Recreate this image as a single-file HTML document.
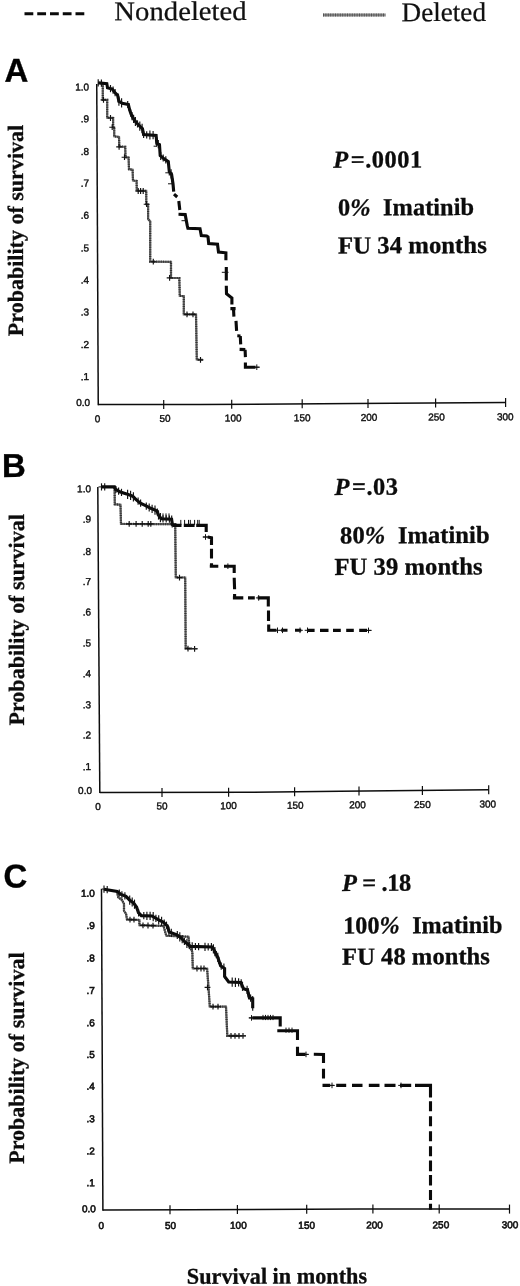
<!DOCTYPE html>
<html lang="en"><head><meta charset="utf-8"><title>Probability of survival: Nondeleted vs Deleted</title>
<style>
html,body{margin:0;padding:0;background:#fff;overflow:hidden;width:520px;height:1286px}
svg{display:block;opacity:.999;will-change:transform;text-rendering:geometricPrecision}
.ax{font-family:"Liberation Sans", Arial, sans-serif;font-size:10px;fill:#111;stroke:#111;stroke-width:var(--axw,.42px)}
.ann{font-family:"Liberation Serif", "Times New Roman", serif;font-weight:bold;font-size:24.5px;fill:#0c0c0c;stroke:#0c0c0c;stroke-width:.3px}
.leg{font-family:"Liberation Serif", "Times New Roman", serif;font-size:27px;fill:#111;stroke:#111;stroke-width:.25px}
.let{font-family:"Liberation Sans", Arial, sans-serif;font-weight:bold;font-size:33px;fill:#000;stroke:#000;stroke-width:.35px}
</style></head><body>
<svg width="520" height="1286" viewBox="0 0 520 1286">
<rect width="520" height="1286" fill="#fff"/>

<path d="M24.5,13.7H84.3" stroke="#0a0a0a" stroke-width="3.1" stroke-dasharray="8.8,3.95" fill="none"/>
<text class="leg" x="114.3" y="20.3" transform="rotate(-0.15 114.3 20.3)" textLength="132.4" lengthAdjust="spacingAndGlyphs">Nondeleted</text>
<path d="M323,14.9H385.6" stroke="#8c8c8c" stroke-width="3" fill="none"/>
<path d="M323,14.9H385.6" stroke="#555" stroke-width="3" stroke-dasharray="1,1.4" fill="none"/>
<text class="leg" x="401.5" y="21.2" transform="rotate(-0.15 401.5 21.2)" textLength="84.5" lengthAdjust="spacingAndGlyphs">Deleted</text>
<g id="panelA">
<text class="let" x="4.5" y="81.7" transform="rotate(-0.2 4.5 81.7)">A</text>
<text class="ann" style="font-size:22px" transform="translate(23.4,230.5) rotate(-90)" text-anchor="middle" textLength="211.4" lengthAdjust="spacingAndGlyphs">Probability of survival</text>
<path d="M96.75,84L98.25,405.2" stroke="#0d0d0d" stroke-width="1.5" fill="none"/>
<path d="M98.2,404.5 L200.0,404.5 L355.0,403.5 L505.6,402.4" stroke="#0d0d0d" stroke-width="1.5" fill="none" stroke-linejoin="round"/>
<path d="M163.7,400.0V409.0" stroke="#0d0d0d" stroke-width="1.2" fill="none"/>
<text class="ax" x="165" y="421.87" transform="rotate(-0.27 165 421.87)" text-anchor="middle">50</text>
<path d="M231.7,399.8V408.8" stroke="#0d0d0d" stroke-width="1.2" fill="none"/>
<text class="ax" x="233.2" y="421.54" transform="rotate(-0.27 233.2 421.54)" text-anchor="middle">100</text>
<path d="M302.2,399.3V408.3" stroke="#0d0d0d" stroke-width="1.2" fill="none"/>
<text class="ax" x="302.2" y="421.20" transform="rotate(-0.27 302.2 421.20)" text-anchor="middle">150</text>
<path d="M368.0,398.9V407.9" stroke="#0d0d0d" stroke-width="1.2" fill="none"/>
<text class="ax" x="369" y="420.87" transform="rotate(-0.27 369 420.87)" text-anchor="middle">200</text>
<path d="M435.6,398.4V407.4" stroke="#0d0d0d" stroke-width="1.2" fill="none"/>
<text class="ax" x="436.6" y="420.54" transform="rotate(-0.27 436.6 420.54)" text-anchor="middle">250</text>
<path d="M505.6,397.9V406.9" stroke="#0d0d0d" stroke-width="1.2" fill="none"/>
<text class="ax" x="505.3" y="420.20" transform="rotate(-0.27 505.3 420.20)" text-anchor="middle">300</text>
<text class="ax" x="97.5" y="422.20" transform="rotate(-0.27 97.5 422.20)" text-anchor="middle">0</text>
<text class="ax" x="89.20" y="90.40" transform="rotate(-0.27 89.20 90.40)" text-anchor="end">1.0</text>
<text class="ax" x="89.20" y="122.20" transform="rotate(-0.27 89.20 122.20)" text-anchor="end">.9</text>
<text class="ax" x="89.20" y="155.00" transform="rotate(-0.27 89.20 155.00)" text-anchor="end">.8</text>
<text class="ax" x="89.20" y="186.60" transform="rotate(-0.27 89.20 186.60)" text-anchor="end">.7</text>
<text class="ax" x="89.20" y="218.80" transform="rotate(-0.27 89.20 218.80)" text-anchor="end">.6</text>
<text class="ax" x="89.20" y="251.50" transform="rotate(-0.27 89.20 251.50)" text-anchor="end">.5</text>
<text class="ax" x="89.20" y="283.40" transform="rotate(-0.27 89.20 283.40)" text-anchor="end">.4</text>
<text class="ax" x="89.20" y="315.40" transform="rotate(-0.27 89.20 315.40)" text-anchor="end">.3</text>
<text class="ax" x="89.20" y="348.00" transform="rotate(-0.27 89.20 348.00)" text-anchor="end">.2</text>
<text class="ax" x="89.20" y="380.10" transform="rotate(-0.27 89.20 380.10)" text-anchor="end">.1</text>
<text class="ax" x="90.20" y="405.90" transform="rotate(-0.27 90.20 405.90)" text-anchor="end">0.0</text>
<path d="M98.2,83.2 L102.8,83.5 L102.8,99.9 L107.2,99.9 L107.2,117.7 L113.1,118.0 L113.1,127.0 L114.2,127.5 L114.2,136.3 L119.0,137.0 L119.3,146.5 L125.2,146.8 L125.5,157.2 L128.6,157.6 L129.0,169.2 L132.6,169.7 L133.0,180.6 L136.6,180.9 L136.8,190.7 L146.2,190.8 L146.3,204.2 L148.1,204.6 L148.1,219.2 L150.2,221.2 L150.2,261.6 L171.0,261.8 L171.0,278.0 L179.3,278.0 L179.8,296.0 L183.8,296.0 L183.8,314.3 L196.0,314.3 L196.8,359.5 L202.7,359.8" stroke="#6a6a6a" stroke-width="2.2" fill="none" stroke-linejoin="miter"/>
<path d="M98.2,83.2 L102.8,83.5 L102.8,99.9 L107.2,99.9 L107.2,117.7 L113.1,118.0 L113.1,127.0 L114.2,127.5 L114.2,136.3 L119.0,137.0 L119.3,146.5 L125.2,146.8 L125.5,157.2 L128.6,157.6 L129.0,169.2 L132.6,169.7 L133.0,180.6 L136.6,180.9 L136.8,190.7 L146.2,190.8 L146.3,204.2 L148.1,204.6 L148.1,219.2 L150.2,221.2 L150.2,261.6 L171.0,261.8 L171.0,278.0 L179.3,278.0 L179.8,296.0 L183.8,296.0 L183.8,314.3 L196.0,314.3 L196.8,359.5 L202.7,359.8" stroke="#333" stroke-width="2.2" fill="none" stroke-dasharray="1,1.3" stroke-linejoin="miter"/>
<path d="M100.6,99.9H106.4M103.5,97.0V102.8" stroke="#111" stroke-width="1.15" fill="none"/>
<path d="M107.6,118.0H113.4M110.5,115.1V120.9" stroke="#111" stroke-width="1.15" fill="none"/>
<path d="M109.3,127.2H115.1M112.2,124.3V130.1" stroke="#111" stroke-width="1.15" fill="none"/>
<path d="M116.2,146.8H122.0M119.1,143.9V149.7" stroke="#111" stroke-width="1.15" fill="none"/>
<path d="M121.6,157.2H127.4M124.5,154.3V160.1" stroke="#111" stroke-width="1.15" fill="none"/>
<path d="M135.3,191.0H141.1M138.2,188.1V193.9" stroke="#111" stroke-width="1.15" fill="none"/>
<path d="M137.7,191.0H143.5M140.6,188.1V193.9" stroke="#111" stroke-width="1.15" fill="none"/>
<path d="M140.3,191.0H146.1M143.2,188.1V193.9" stroke="#111" stroke-width="1.15" fill="none"/>
<path d="M143.7,204.2H149.5M146.6,201.3V207.1" stroke="#111" stroke-width="1.15" fill="none"/>
<path d="M150.4,261.7H156.2M153.3,258.8V264.6" stroke="#111" stroke-width="1.15" fill="none"/>
<path d="M166.7,277.9H172.5M169.6,275.0V280.8" stroke="#111" stroke-width="1.15" fill="none"/>
<path d="M184.1,314.3H189.9M187.0,311.4V317.2" stroke="#111" stroke-width="1.15" fill="none"/>
<path d="M190.1,314.3H195.9M193.0,311.4V317.2" stroke="#111" stroke-width="1.15" fill="none"/>
<path d="M197.6,359.8H203.4M200.5,356.9V362.7" stroke="#111" stroke-width="1.15" fill="none"/>
<path d="M98.2,82.8 L106.8,83.6 L107.5,87.8 L112.2,89.1 L114.9,92.5 L117.6,95.2 L118.9,101.2 L122.3,103.3 L128.4,104.6 L129.7,110.0 L131.0,114.0 L133.0,118.0 L135.8,122.0 L139.0,125.5 L142.5,128.8 L143.6,134.6 L156.1,135.4 L156.8,143.5 L159.5,144.8 L160.2,155.6 L164.2,158.9 L168.3,161.6 L169.3,171.7 L171.6,174.4 L173.0,183.8 L173.7,191.7" stroke="#0a0a0a" stroke-width="3.1" fill="none" stroke-linejoin="miter"/>
<path d="M174.0,194.2 L177.2,197.0 M178.8,201.0 L179.8,210.0 M178.5,214.3 L185.2,214.6 L187.2,225.4 L187.9,228.2 L200.0,228.7 L201.3,235.5 L206.7,236.0 L208.0,236.8 L208.7,243.5 L217.5,244.2 L218.5,252.1 L225.9,252.8 L225.9,260.2 M226.3,266.9 L226.3,280.4 M226.3,285.8 L226.5,293.8 L231.9,297.9 L231.9,304.6 M230.4,308.6 L235.6,308.6 M233.5,308.6 L233.9,316.7 M236.0,320.8 L236.6,330.8 M237.3,335.8 L240.5,336.0 M240.3,336.2 L240.7,344.3 M239.6,349.4 L245.3,349.6 M245.1,349.7 L245.4,357.1 M245.4,362.6 L245.4,367.2 L255.5,367.2" stroke="#0a0a0a" stroke-width="3.1" fill="none" stroke-linejoin="miter"/>
<path d="M255.0,367.2 L259.5,367.2 M221.8,272.3 L228.5,272.3 M153.6,146.2 L157.0,146.2 M165.3,172.8 L169.0,172.8 M168.0,183.8 L172.0,183.8 M181.5,220.7 L185.5,220.7" stroke="#111" stroke-width="1" fill="none"/>
<path d="M98.2,79.2V86.4" stroke="#111" stroke-width="1.15" fill="none"/>
<path d="M101.4,79.5V86.7" stroke="#111" stroke-width="1.15" fill="none"/>
<path d="M110.5,85.0V92.2" stroke="#111" stroke-width="1.15" fill="none"/>
<path d="M113.1,86.6V93.8" stroke="#111" stroke-width="1.15" fill="none"/>
<path d="M115.1,89.1V96.3" stroke="#111" stroke-width="1.15" fill="none"/>
<path d="M118.2,93.4V102.6" stroke="#111" stroke-width="1.15" fill="none"/>
<path d="M118.9,96.5V105.7" stroke="#111" stroke-width="1.15" fill="none"/>
<path d="M121.6,98.2V107.4" stroke="#111" stroke-width="1.15" fill="none"/>
<path d="M127.7,100.9V108.1" stroke="#111" stroke-width="1.15" fill="none"/>
<path d="M129.0,103.4V110.6" stroke="#111" stroke-width="1.15" fill="none"/>
<path d="M130.7,109.6V116.8" stroke="#111" stroke-width="1.15" fill="none"/>
<path d="M132.0,112.0V120.2" stroke="#111" stroke-width="1.15" fill="none"/>
<path d="M133.6,114.8V123.0" stroke="#111" stroke-width="1.15" fill="none"/>
<path d="M135.4,116.9V126.1" stroke="#111" stroke-width="1.15" fill="none"/>
<path d="M137.5,120.3V127.5" stroke="#111" stroke-width="1.15" fill="none"/>
<path d="M139.8,121.6V130.8" stroke="#111" stroke-width="1.15" fill="none"/>
<path d="M142.1,123.8V133.0" stroke="#111" stroke-width="1.15" fill="none"/>
<path d="M143.0,127.8V135.0" stroke="#111" stroke-width="1.15" fill="none"/>
<path d="M143.6,130.9V138.1" stroke="#111" stroke-width="1.15" fill="none"/>
<path d="M146.7,131.2V138.4" stroke="#111" stroke-width="1.15" fill="none"/>
<path d="M149.9,130.4V139.6" stroke="#111" stroke-width="1.15" fill="none"/>
<path d="M153.1,131.1V139.3" stroke="#111" stroke-width="1.15" fill="none"/>
<path d="M156.4,134.7V142.9" stroke="#111" stroke-width="1.15" fill="none"/>
<path d="M156.7,137.4V146.6" stroke="#111" stroke-width="1.15" fill="none"/>
<path d="M158.3,140.1V148.3" stroke="#111" stroke-width="1.15" fill="none"/>
<path d="M159.6,143.1V150.3" stroke="#111" stroke-width="1.15" fill="none"/>
<path d="M159.8,145.3V154.5" stroke="#111" stroke-width="1.15" fill="none"/>
<path d="M160.0,149.5V156.7" stroke="#111" stroke-width="1.15" fill="none"/>
<path d="M160.7,151.9V160.1" stroke="#111" stroke-width="1.15" fill="none"/>
<path d="M163.2,154.4V161.6" stroke="#111" stroke-width="1.15" fill="none"/>
<path d="M165.8,156.3V163.5" stroke="#111" stroke-width="1.15" fill="none"/>
<path d="M168.6,160.8V169.0" stroke="#111" stroke-width="1.15" fill="none"/>
<path d="M168.9,164.5V171.7" stroke="#111" stroke-width="1.15" fill="none"/>
<path d="M169.3,167.2V175.4" stroke="#111" stroke-width="1.15" fill="none"/>
<path d="M171.1,169.2V178.4" stroke="#111" stroke-width="1.15" fill="none"/>
<path d="M172.0,172.2V181.4" stroke="#111" stroke-width="1.15" fill="none"/>
<path d="M172.4,176.4V183.6" stroke="#111" stroke-width="1.15" fill="none"/>
<path d="M172.9,178.6V187.8" stroke="#111" stroke-width="1.15" fill="none"/>
<path d="M173.2,182.7V189.9" stroke="#111" stroke-width="1.15" fill="none"/>
<path d="M254.0,367.2H259.6M256.8,364.4V370.0" stroke="#111" stroke-width="1" fill="none"/>
<text class="ann" x="333.2" y="167.7" transform="rotate(-0.2 333.2 167.7)" textLength="89" lengthAdjust="spacing"><tspan font-style="italic">P</tspan><tspan dx="2.2">=.0001</tspan></text>
<text class="ann" x="338" y="215.5" transform="rotate(-0.2 338 215.5)" textLength="136" lengthAdjust="spacingAndGlyphs">0<tspan font-style="italic">%</tspan><tspan dx="6.5"> Imatinib</tspan></text>
<text class="ann" x="338" y="253.5" transform="rotate(-0.2 338 253.5)" textLength="148.8" lengthAdjust="spacingAndGlyphs">FU 34 months</text>
</g>
<g id="panelB">
<text class="let" x="2" y="477.1" transform="rotate(-0.2 2 477.1)">B</text>
<text class="ann" style="font-size:22px" transform="translate(23.9,619.8) rotate(-90)" text-anchor="middle" textLength="211.4" lengthAdjust="spacingAndGlyphs">Probability of survival</text>
<path d="M97.8,487L99.8,793.0" stroke="#0d0d0d" stroke-width="1.5" fill="none"/>
<path d="M99.8,792.6 L250.0,792.3 L340.0,791.3 L488.7,789.8" stroke="#0d0d0d" stroke-width="1.5" fill="none" stroke-linejoin="round"/>
<path d="M162.0,788.0V797.0" stroke="#0d0d0d" stroke-width="1.2" fill="none"/>
<text class="ax" x="162" y="809.52" transform="rotate(-0.27 162 809.52)" text-anchor="middle">50</text>
<path d="M228.6,787.8V796.8" stroke="#0d0d0d" stroke-width="1.2" fill="none"/>
<text class="ax" x="228.6" y="809.11" transform="rotate(-0.27 228.6 809.11)" text-anchor="middle">100</text>
<path d="M294.6,787.3V796.3" stroke="#0d0d0d" stroke-width="1.2" fill="none"/>
<text class="ax" x="295.3" y="808.69" transform="rotate(-0.27 295.3 808.69)" text-anchor="middle">150</text>
<path d="M359.0,786.6V795.6" stroke="#0d0d0d" stroke-width="1.2" fill="none"/>
<text class="ax" x="357.5" y="808.31" transform="rotate(-0.27 357.5 808.31)" text-anchor="middle">200</text>
<path d="M422.4,786.0V795.0" stroke="#0d0d0d" stroke-width="1.2" fill="none"/>
<text class="ax" x="422.4" y="807.91" transform="rotate(-0.27 422.4 807.91)" text-anchor="middle">250</text>
<path d="M488.7,785.3V794.3" stroke="#0d0d0d" stroke-width="1.2" fill="none"/>
<text class="ax" x="487.8" y="807.51" transform="rotate(-0.27 487.8 807.51)" text-anchor="middle">300</text>
<text class="ax" x="98" y="809.90" transform="rotate(-0.27 98 809.90)" text-anchor="middle">0</text>
<text class="ax" x="91.00" y="492.20" transform="rotate(-0.27 91.00 492.20)" text-anchor="end">1.0</text>
<text class="ax" x="91.00" y="522.60" transform="rotate(-0.27 91.00 522.60)" text-anchor="end">.9</text>
<text class="ax" x="91.00" y="554.90" transform="rotate(-0.27 91.00 554.90)" text-anchor="end">.8</text>
<text class="ax" x="91.00" y="585.00" transform="rotate(-0.27 91.00 585.00)" text-anchor="end">.7</text>
<text class="ax" x="91.00" y="615.40" transform="rotate(-0.27 91.00 615.40)" text-anchor="end">.6</text>
<text class="ax" x="91.00" y="646.50" transform="rotate(-0.27 91.00 646.50)" text-anchor="end">.5</text>
<text class="ax" x="91.00" y="677.10" transform="rotate(-0.27 91.00 677.10)" text-anchor="end">.4</text>
<text class="ax" x="91.00" y="708.20" transform="rotate(-0.27 91.00 708.20)" text-anchor="end">.3</text>
<text class="ax" x="91.00" y="738.50" transform="rotate(-0.27 91.00 738.50)" text-anchor="end">.2</text>
<text class="ax" x="91.00" y="770.10" transform="rotate(-0.27 91.00 770.10)" text-anchor="end">.1</text>
<text class="ax" x="92.00" y="794.00" transform="rotate(-0.27 92.00 794.00)" text-anchor="end">0.0</text>
<path d="M114.6,488.0 L114.8,504.2 L120.5,504.8 L121.0,523.9 L175.2,524.2 L175.8,577.3 L185.2,577.5 L185.7,648.4 L192.0,648.6" stroke="#6a6a6a" stroke-width="2.2" fill="none" stroke-linejoin="miter"/>
<path d="M114.6,488.0 L114.8,504.2 L120.5,504.8 L121.0,523.9 L175.2,524.2 L175.8,577.3 L185.2,577.5 L185.7,648.4 L192.0,648.6" stroke="#333" stroke-width="2.2" fill="none" stroke-dasharray="1,1.3" stroke-linejoin="miter"/>
<path d="M126.3,523.9H132.1M129.2,521.0V526.8" stroke="#111" stroke-width="1.15" fill="none"/>
<path d="M133.2,523.9H139.0M136.1,521.0V526.8" stroke="#111" stroke-width="1.15" fill="none"/>
<path d="M139.3,523.9H145.1M142.2,521.0V526.8" stroke="#111" stroke-width="1.15" fill="none"/>
<path d="M145.3,523.9H151.1M148.2,521.0V526.8" stroke="#111" stroke-width="1.15" fill="none"/>
<path d="M147.9,523.9H153.7M150.8,521.0V526.8" stroke="#111" stroke-width="1.15" fill="none"/>
<path d="M176.6,577.6H182.4M179.5,574.7V580.5" stroke="#111" stroke-width="1.15" fill="none"/>
<path d="M185.1,648.6H190.9M188.0,645.7V651.5" stroke="#111" stroke-width="1.15" fill="none"/>
<path d="M191.7,648.8H197.5M194.6,645.9V651.7" stroke="#111" stroke-width="1.15" fill="none"/>
<path d="M101.5,486.9 L114.5,486.9 L115.4,489.2 L119.7,491.8 L126.6,493.9 L132.7,496.2 L136.1,499.6 L140.4,503.1 L145.6,505.7 L150.8,508.3 L156.9,510.9 L158.6,515.2 L161.2,518.7 L171.6,519.2 L172.4,524.6 L173.5,525.4" stroke="#0a0a0a" stroke-width="3.1" fill="none" stroke-linejoin="miter"/>
<path d="M173.0,525.4 L181.5,525.4 M183.8,525.4 L194.6,525.4 M196.2,525.4 L206.2,525.4 L206.2,532.0 M207.7,537.0 L211.5,537.7 L211.5,545.0 M211.5,548.8 L211.5,558.5 M211.5,563.3 L211.5,566.2 M209.8,566.2 L218.3,566.2 M224.0,566.2 L234.2,566.2 L234.2,572.9 M234.2,577.7 L234.6,589.2 M234.6,594.0 L234.6,597.9 M232.9,597.9 L243.3,597.9 M248.0,597.9 L254.8,597.9 M257.7,597.9 L268.3,597.9 L268.3,606.5 M268.5,610.6 L268.5,621.0 M268.7,624.5 L268.7,630.3 L276.5,630.3 M281.2,630.3 L287.5,630.3 M295.0,630.3 L301.2,630.3 M307.0,630.4 L314.6,630.4 M320.0,630.4 L328.5,630.4 M333.0,630.4 L340.8,630.4 M346.2,630.4 L353.8,630.4 M359.2,630.4 L367.0,630.4" stroke="#0a0a0a" stroke-width="3.1" fill="none" stroke-linejoin="miter"/>
<path d="M98.5,486.9 L102.0,486.9 M203.0,537.0 L208.7,537.0 M366.0,630.4 L371.5,630.4" stroke="#111" stroke-width="1" fill="none"/>
<path d="M101.5,483.3V490.5" stroke="#111" stroke-width="1.15" fill="none"/>
<path d="M104.7,483.3V490.5" stroke="#111" stroke-width="1.15" fill="none"/>
<path d="M115.9,485.9V493.1" stroke="#111" stroke-width="1.15" fill="none"/>
<path d="M118.6,487.5V494.7" stroke="#111" stroke-width="1.15" fill="none"/>
<path d="M121.5,488.8V496.0" stroke="#111" stroke-width="1.15" fill="none"/>
<path d="M127.6,489.7V498.9" stroke="#111" stroke-width="1.15" fill="none"/>
<path d="M130.6,490.8V500.0" stroke="#111" stroke-width="1.15" fill="none"/>
<path d="M133.4,492.3V501.5" stroke="#111" stroke-width="1.15" fill="none"/>
<path d="M138.1,497.6V504.8" stroke="#111" stroke-width="1.15" fill="none"/>
<path d="M140.6,499.6V506.8" stroke="#111" stroke-width="1.15" fill="none"/>
<path d="M146.3,502.5V509.7" stroke="#111" stroke-width="1.15" fill="none"/>
<path d="M149.2,503.4V511.6" stroke="#111" stroke-width="1.15" fill="none"/>
<path d="M152.1,504.7V512.9" stroke="#111" stroke-width="1.15" fill="none"/>
<path d="M155.0,505.5V514.7" stroke="#111" stroke-width="1.15" fill="none"/>
<path d="M157.3,508.4V515.6" stroke="#111" stroke-width="1.15" fill="none"/>
<path d="M158.5,510.4V519.6" stroke="#111" stroke-width="1.15" fill="none"/>
<path d="M160.4,513.0V522.2" stroke="#111" stroke-width="1.15" fill="none"/>
<path d="M163.0,515.2V522.4" stroke="#111" stroke-width="1.15" fill="none"/>
<path d="M166.2,515.3V522.5" stroke="#111" stroke-width="1.15" fill="none"/>
<path d="M169.4,515.5V522.7" stroke="#111" stroke-width="1.15" fill="none"/>
<path d="M171.7,515.6V524.8" stroke="#111" stroke-width="1.15" fill="none"/>
<path d="M172.2,519.2V527.4" stroke="#111" stroke-width="1.15" fill="none"/>
<path d="M202.7,537.0H208.3M205.5,534.2V539.8" stroke="#111" stroke-width="1" fill="none"/>
<path d="M225.1,566.2H230.7M227.9,563.4V569.0" stroke="#111" stroke-width="1" fill="none"/>
<path d="M255.9,597.9H261.5M258.7,595.1V600.7" stroke="#111" stroke-width="1" fill="none"/>
<path d="M274.7,630.3H280.3M277.5,627.5V633.1" stroke="#111" stroke-width="1" fill="none"/>
<path d="M279.7,630.3H285.3M282.5,627.5V633.1" stroke="#111" stroke-width="1" fill="none"/>
<path d="M297.2,630.3H302.8M300.0,627.5V633.1" stroke="#111" stroke-width="1" fill="none"/>
<path d="M304.7,630.3H310.3M307.5,627.5V633.1" stroke="#111" stroke-width="1" fill="none"/>
<path d="M365.7,630.4H371.3M368.5,627.6V633.2" stroke="#111" stroke-width="1" fill="none"/>
<path d="M180.8,519.9V525.1" stroke="#111" stroke-width="1" fill="none"/>
<path d="M184.6,519.9V525.1" stroke="#111" stroke-width="1" fill="none"/>
<path d="M188.5,519.9V525.1" stroke="#111" stroke-width="1" fill="none"/>
<path d="M190.3,519.9V525.1" stroke="#111" stroke-width="1" fill="none"/>
<path d="M194.6,519.9V525.1" stroke="#111" stroke-width="1" fill="none"/>
<path d="M197.7,519.9V525.1" stroke="#111" stroke-width="1" fill="none"/>
<path d="M199.2,519.9V525.1" stroke="#111" stroke-width="1" fill="none"/>
<path d="M163.0,513.4V518.6" stroke="#111" stroke-width="1" fill="none"/>
<path d="M166.0,513.4V518.6" stroke="#111" stroke-width="1" fill="none"/>
<path d="M169.0,513.4V518.6" stroke="#111" stroke-width="1" fill="none"/>
<path d="M191.0,648.4 L197.5,648.6" stroke="#222" stroke-width="1" fill="none"/>
<text class="ann" x="334.5" y="494.9" transform="rotate(-0.2 334.5 494.9)" textLength="63.4" lengthAdjust="spacing"><tspan font-style="italic">P</tspan><tspan dx="2.2">=.03</tspan></text>
<text class="ann" x="340.1" y="543.4" transform="rotate(-0.2 340.1 543.4)" textLength="149.5" lengthAdjust="spacingAndGlyphs">80<tspan font-style="italic">%</tspan><tspan dx="6.5"> Imatinib</tspan></text>
<text class="ann" x="334.5" y="574.9" transform="rotate(-0.2 334.5 574.9)" textLength="148.2" lengthAdjust="spacingAndGlyphs">FU 39 months</text>
</g>
<g id="panelC" style="--axw:.62px">
<text class="let" x="3.5" y="887.5" transform="rotate(-0.2 3.5 887.5)">C</text>
<text class="ann" style="font-size:22px" transform="translate(24,1058.1) rotate(-90)" text-anchor="middle" textLength="211.4" lengthAdjust="spacingAndGlyphs">Probability of survival</text>
<path d="M101.5,888.8L102.9,1210.7" stroke="#0d0d0d" stroke-width="1.5" fill="none"/>
<path d="M102.9,1210.0 L190.0,1209.7 L360.0,1208.9 L509.5,1209.1" stroke="#0d0d0d" stroke-width="1.5" fill="none" stroke-linejoin="round"/>
<path d="M170.0,1205.3V1214.3" stroke="#0d0d0d" stroke-width="1.2" fill="none"/>
<text class="ax" x="170.5" y="1228.95" transform="rotate(-0.27 170.5 1228.95)" text-anchor="middle">50</text>
<path d="M237.4,1205.0V1214.0" stroke="#0d0d0d" stroke-width="1.2" fill="none"/>
<text class="ax" x="238.4" y="1228.80" transform="rotate(-0.27 238.4 1228.80)" text-anchor="middle">100</text>
<path d="M306.7,1204.7V1213.7" stroke="#0d0d0d" stroke-width="1.2" fill="none"/>
<text class="ax" x="306.7" y="1228.65" transform="rotate(-0.27 306.7 1228.65)" text-anchor="middle">150</text>
<path d="M372.9,1204.4V1213.4" stroke="#0d0d0d" stroke-width="1.2" fill="none"/>
<text class="ax" x="374.5" y="1228.50" transform="rotate(-0.27 374.5 1228.50)" text-anchor="middle">200</text>
<path d="M439.2,1204.5V1213.5" stroke="#0d0d0d" stroke-width="1.2" fill="none"/>
<text class="ax" x="440.9" y="1228.35" transform="rotate(-0.27 440.9 1228.35)" text-anchor="middle">250</text>
<path d="M509.5,1204.6V1213.6" stroke="#0d0d0d" stroke-width="1.2" fill="none"/>
<text class="ax" x="510" y="1228.20" transform="rotate(-0.27 510 1228.20)" text-anchor="middle">300</text>
<text class="ax" x="101.25" y="1229.10" transform="rotate(-0.27 101.25 1229.10)" text-anchor="middle">0</text>
<text class="ax" x="94.90" y="896.70" transform="rotate(-0.27 94.90 896.70)" text-anchor="end">1.0</text>
<text class="ax" x="94.90" y="929.00" transform="rotate(-0.27 94.90 929.00)" text-anchor="end">.9</text>
<text class="ax" x="94.90" y="961.50" transform="rotate(-0.27 94.90 961.50)" text-anchor="end">.8</text>
<text class="ax" x="94.90" y="994.00" transform="rotate(-0.27 94.90 994.00)" text-anchor="end">.7</text>
<text class="ax" x="94.90" y="1026.30" transform="rotate(-0.27 94.90 1026.30)" text-anchor="end">.6</text>
<text class="ax" x="94.90" y="1058.00" transform="rotate(-0.27 94.90 1058.00)" text-anchor="end">.5</text>
<text class="ax" x="94.90" y="1089.70" transform="rotate(-0.27 94.90 1089.70)" text-anchor="end">.4</text>
<text class="ax" x="94.90" y="1122.30" transform="rotate(-0.27 94.90 1122.30)" text-anchor="end">.3</text>
<text class="ax" x="94.90" y="1154.50" transform="rotate(-0.27 94.90 1154.50)" text-anchor="end">.2</text>
<text class="ax" x="94.90" y="1186.30" transform="rotate(-0.27 94.90 1186.30)" text-anchor="end">.1</text>
<text class="ax" x="95.90" y="1212.20" transform="rotate(-0.27 95.90 1212.20)" text-anchor="end">0.0</text>
<path d="M117.0,892.0 L118.3,897.3 L122.0,900.0 L124.0,904.0 L124.0,910.8 L126.0,913.7 L127.0,919.4 L139.4,920.0 L139.4,925.2 L163.5,926.0 L166.3,935.8 L188.5,936.7 L189.6,947.0 L192.3,951.8 L192.8,968.5 L207.1,968.5 L208.5,987.3 L209.8,1006.7 L226.0,1006.7 L227.3,1035.8 L240.0,1035.8" stroke="#6a6a6a" stroke-width="2.2" fill="none" stroke-linejoin="miter"/>
<path d="M117.0,892.0 L118.3,897.3 L122.0,900.0 L124.0,904.0 L124.0,910.8 L126.0,913.7 L127.0,919.4 L139.4,920.0 L139.4,925.2 L163.5,926.0 L166.3,935.8 L188.5,936.7 L189.6,947.0 L192.3,951.8 L192.8,968.5 L207.1,968.5 L208.5,987.3 L209.8,1006.7 L226.0,1006.7 L227.3,1035.8 L240.0,1035.8" stroke="#333" stroke-width="2.2" fill="none" stroke-dasharray="1,1.3" stroke-linejoin="miter"/>
<path d="M127.1,919.7H132.9M130.0,916.8V922.6" stroke="#111" stroke-width="1.15" fill="none"/>
<path d="M131.1,919.7H136.9M134.0,916.8V922.6" stroke="#111" stroke-width="1.15" fill="none"/>
<path d="M140.1,925.4H145.9M143.0,922.5V928.3" stroke="#111" stroke-width="1.15" fill="none"/>
<path d="M145.1,925.5H150.9M148.0,922.6V928.4" stroke="#111" stroke-width="1.15" fill="none"/>
<path d="M150.1,925.6H155.9M153.0,922.7V928.5" stroke="#111" stroke-width="1.15" fill="none"/>
<path d="M194.1,968.5H199.9M197.0,965.6V971.4" stroke="#111" stroke-width="1.15" fill="none"/>
<path d="M198.1,968.5H203.9M201.0,965.6V971.4" stroke="#111" stroke-width="1.15" fill="none"/>
<path d="M201.1,968.5H206.9M204.0,965.6V971.4" stroke="#111" stroke-width="1.15" fill="none"/>
<path d="M204.6,987.3H210.4M207.5,984.4V990.2" stroke="#111" stroke-width="1.15" fill="none"/>
<path d="M210.1,1006.7H215.9M213.0,1003.8V1009.6" stroke="#111" stroke-width="1.15" fill="none"/>
<path d="M215.1,1006.7H220.9M218.0,1003.8V1009.6" stroke="#111" stroke-width="1.15" fill="none"/>
<path d="M228.1,1035.8H233.9M231.0,1032.9V1038.7" stroke="#111" stroke-width="1.15" fill="none"/>
<path d="M232.1,1035.8H237.9M235.0,1032.9V1038.7" stroke="#111" stroke-width="1.15" fill="none"/>
<path d="M236.1,1035.8H241.9M239.0,1032.9V1038.7" stroke="#111" stroke-width="1.15" fill="none"/>
<path d="M240.1,1035.8H245.9M243.0,1032.9V1038.7" stroke="#111" stroke-width="1.15" fill="none"/>
<path d="M104.0,889.2 L117.3,891.5 L121.0,894.4 L126.0,896.3 L129.8,900.2 L133.7,903.0 L136.5,907.0 L138.5,912.7 L141.3,915.6 L152.0,916.0 L157.7,919.4 L163.5,922.3 L167.3,926.0 L169.2,932.0 L177.0,934.8 L180.8,937.7 L184.6,941.5 L190.4,946.4 L212.5,947.0 L215.2,952.3 L217.9,957.7 L220.6,965.8 L224.6,968.5 L224.6,976.5 L228.7,982.0 L240.8,982.5 L243.5,988.7 L247.5,990.0 L249.4,997.7 L252.7,998.7 L252.7,1008.3" stroke="#0a0a0a" stroke-width="3.1" fill="none" stroke-linejoin="miter"/>
<path d="M252.3,1017.9 L280.2,1017.9 L280.2,1026.5 M277.3,1030.8 L297.5,1030.8 L297.5,1040.0 M297.5,1046.7 L297.5,1054.4 L305.5,1054.4 M313.8,1054.2 L323.5,1054.4 L323.5,1063.0 M323.5,1068.8 L323.5,1078.5 M322.5,1085.4 L330.2,1085.4 M336.2,1085.4 L346.2,1085.4 M352.0,1085.4 L362.5,1085.4 M368.8,1085.4 L379.5,1085.4 M384.5,1085.4 L395.5,1085.4 M400.0,1085.4 L411.2,1085.4 M415.0,1085.4 L430.5,1085.4 L430.5,1097.5 M430.5,1101.2 L430.5,1111.2 M430.5,1116.2 L430.5,1126.2 M430.5,1131.2 L430.5,1141.2 M430.5,1146.2 L430.5,1156.2 M430.5,1160.5 L430.5,1171.2 M430.5,1175.0 L430.5,1185.5 M430.5,1190.0 L430.5,1200.0 M430.5,1203.8 L430.5,1209.8" stroke="#0a0a0a" stroke-width="3.1" fill="none" stroke-linejoin="miter"/>
<path d="M102.0,889.0 L105.0,889.2 M329.0,1085.4 L334.0,1085.4 M304.0,1054.4 L308.5,1054.4 M249.0,1017.9 L253.0,1017.9" stroke="#111" stroke-width="1" fill="none"/>
<path d="M104.0,885.6V892.8" stroke="#111" stroke-width="1.15" fill="none"/>
<path d="M107.2,886.1V893.3" stroke="#111" stroke-width="1.15" fill="none"/>
<path d="M119.3,889.4V896.6" stroke="#111" stroke-width="1.15" fill="none"/>
<path d="M121.9,891.2V898.4" stroke="#111" stroke-width="1.15" fill="none"/>
<path d="M124.9,892.3V899.5" stroke="#111" stroke-width="1.15" fill="none"/>
<path d="M129.7,895.5V904.7" stroke="#111" stroke-width="1.15" fill="none"/>
<path d="M132.2,897.4V906.6" stroke="#111" stroke-width="1.15" fill="none"/>
<path d="M134.5,899.6V908.8" stroke="#111" stroke-width="1.15" fill="none"/>
<path d="M137.5,906.2V913.4" stroke="#111" stroke-width="1.15" fill="none"/>
<path d="M138.6,909.2V916.4" stroke="#111" stroke-width="1.15" fill="none"/>
<path d="M143.8,912.1V919.3" stroke="#111" stroke-width="1.15" fill="none"/>
<path d="M146.9,911.7V919.9" stroke="#111" stroke-width="1.15" fill="none"/>
<path d="M150.1,911.8V920.0" stroke="#111" stroke-width="1.15" fill="none"/>
<path d="M153.2,912.1V921.3" stroke="#111" stroke-width="1.15" fill="none"/>
<path d="M155.9,914.7V921.9" stroke="#111" stroke-width="1.15" fill="none"/>
<path d="M158.7,915.3V924.5" stroke="#111" stroke-width="1.15" fill="none"/>
<path d="M161.6,916.7V925.9" stroke="#111" stroke-width="1.15" fill="none"/>
<path d="M164.2,919.4V926.6" stroke="#111" stroke-width="1.15" fill="none"/>
<path d="M166.5,921.6V928.8" stroke="#111" stroke-width="1.15" fill="none"/>
<path d="M167.9,924.4V931.6" stroke="#111" stroke-width="1.15" fill="none"/>
<path d="M168.9,926.5V935.7" stroke="#111" stroke-width="1.15" fill="none"/>
<path d="M171.3,928.7V936.9" stroke="#111" stroke-width="1.15" fill="none"/>
<path d="M177.3,930.9V939.1" stroke="#111" stroke-width="1.15" fill="none"/>
<path d="M179.8,932.3V941.5" stroke="#111" stroke-width="1.15" fill="none"/>
<path d="M182.2,935.0V943.2" stroke="#111" stroke-width="1.15" fill="none"/>
<path d="M184.4,937.7V944.9" stroke="#111" stroke-width="1.15" fill="none"/>
<path d="M186.9,938.8V948.0" stroke="#111" stroke-width="1.15" fill="none"/>
<path d="M189.3,941.9V949.1" stroke="#111" stroke-width="1.15" fill="none"/>
<path d="M192.2,942.3V950.5" stroke="#111" stroke-width="1.15" fill="none"/>
<path d="M195.4,942.9V950.1" stroke="#111" stroke-width="1.15" fill="none"/>
<path d="M198.6,943.0V950.2" stroke="#111" stroke-width="1.15" fill="none"/>
<path d="M205.0,942.7V950.9" stroke="#111" stroke-width="1.15" fill="none"/>
<path d="M208.2,943.3V950.5" stroke="#111" stroke-width="1.15" fill="none"/>
<path d="M211.4,942.9V951.1" stroke="#111" stroke-width="1.15" fill="none"/>
<path d="M213.4,944.3V953.5" stroke="#111" stroke-width="1.15" fill="none"/>
<path d="M214.9,947.1V956.3" stroke="#111" stroke-width="1.15" fill="none"/>
<path d="M216.3,951.0V958.2" stroke="#111" stroke-width="1.15" fill="none"/>
<path d="M217.8,952.8V962.0" stroke="#111" stroke-width="1.15" fill="none"/>
<path d="M218.8,956.8V964.0" stroke="#111" stroke-width="1.15" fill="none"/>
<path d="M221.2,962.6V969.8" stroke="#111" stroke-width="1.15" fill="none"/>
<path d="M223.9,963.4V972.6" stroke="#111" stroke-width="1.15" fill="none"/>
<path d="M224.6,967.2V974.4" stroke="#111" stroke-width="1.15" fill="none"/>
<path d="M224.6,969.4V978.6" stroke="#111" stroke-width="1.15" fill="none"/>
<path d="M232.2,977.5V986.7" stroke="#111" stroke-width="1.15" fill="none"/>
<path d="M235.4,977.7V986.9" stroke="#111" stroke-width="1.15" fill="none"/>
<path d="M238.6,978.3V986.5" stroke="#111" stroke-width="1.15" fill="none"/>
<path d="M241.2,979.3V987.5" stroke="#111" stroke-width="1.15" fill="none"/>
<path d="M242.5,981.7V990.9" stroke="#111" stroke-width="1.15" fill="none"/>
<path d="M247.1,985.8V994.0" stroke="#111" stroke-width="1.15" fill="none"/>
<path d="M248.2,988.1V997.3" stroke="#111" stroke-width="1.15" fill="none"/>
<path d="M248.9,992.2V999.4" stroke="#111" stroke-width="1.15" fill="none"/>
<path d="M250.6,994.5V1001.7" stroke="#111" stroke-width="1.15" fill="none"/>
<path d="M252.7,996.1V1003.3" stroke="#111" stroke-width="1.15" fill="none"/>
<path d="M252.7,999.3V1006.5" stroke="#111" stroke-width="1.15" fill="none"/>
<path d="M252.7,1001.5V1010.7" stroke="#111" stroke-width="1.15" fill="none"/>
<path d="M329.2,1085.4H334.8M332.0,1082.6V1088.2" stroke="#111" stroke-width="1" fill="none"/>
<path d="M398.2,1085.4H403.8M401.0,1082.6V1088.2" stroke="#111" stroke-width="1" fill="none"/>
<path d="M303.2,1054.4H308.8M306.0,1051.6V1057.2" stroke="#111" stroke-width="1" fill="none"/>
<path d="M248.7,1017.9H254.3M251.5,1015.1V1020.7" stroke="#111" stroke-width="1" fill="none"/>
<path d="M263.0,1014.9V1020.1" stroke="#111" stroke-width="1" fill="none"/>
<path d="M265.5,1014.9V1020.1" stroke="#111" stroke-width="1" fill="none"/>
<path d="M268.0,1014.9V1020.1" stroke="#111" stroke-width="1" fill="none"/>
<path d="M270.5,1014.9V1020.1" stroke="#111" stroke-width="1" fill="none"/>
<path d="M273.0,1014.9V1020.1" stroke="#111" stroke-width="1" fill="none"/>
<path d="M286.0,1027.6V1032.8" stroke="#111" stroke-width="1" fill="none"/>
<path d="M289.0,1027.6V1032.8" stroke="#111" stroke-width="1" fill="none"/>
<path d="M292.0,1027.6V1032.8" stroke="#111" stroke-width="1" fill="none"/>
<path d="M238.0,1035.8 L246.0,1035.8" stroke="#222" stroke-width="1" fill="none"/>
<text class="ann" x="342.1" y="891" transform="rotate(-0.2 342.1 891)" textLength="69.2" lengthAdjust="spacing"><tspan font-style="italic">P</tspan><tspan dx="0"> = .18</tspan></text>
<text class="ann" x="343.2" y="933.5" transform="rotate(-0.2 343.2 933.5)" textLength="159.2" lengthAdjust="spacingAndGlyphs">100<tspan font-style="italic">%</tspan><tspan dx="6.5"> Imatinib</tspan></text>
<text class="ann" x="342.1" y="964.7" transform="rotate(-0.2 342.1 964.7)" textLength="147.8" lengthAdjust="spacingAndGlyphs">FU 48 months</text>
</g>
<text class="ann" style="font-size:22.6px" x="186.8" y="1283.8" transform="rotate(-0.15 186.8 1283.8)" textLength="180.3" lengthAdjust="spacingAndGlyphs">Survival in months</text>
</svg></body></html>
